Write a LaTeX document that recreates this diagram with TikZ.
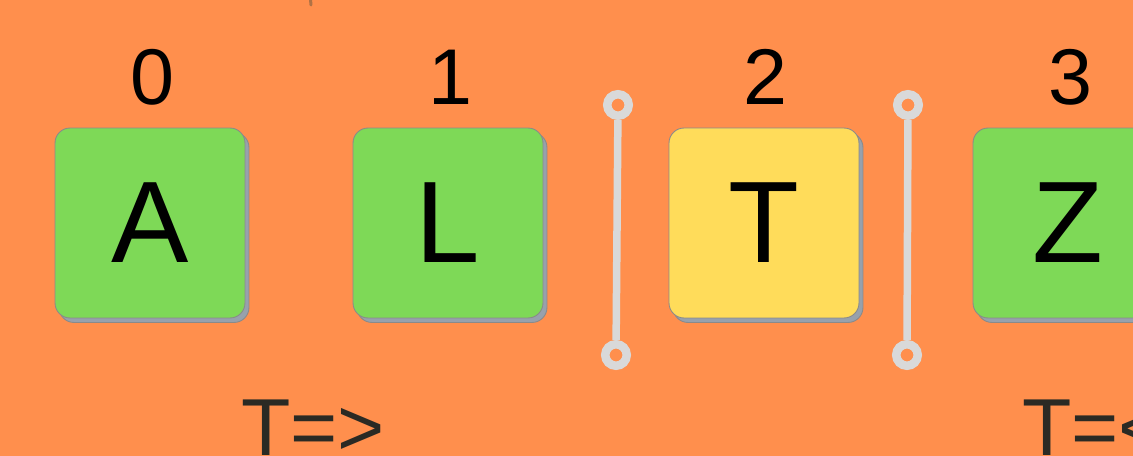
\documentclass[tikz,border=0pt]{standalone}
\usepackage{fontspec}
\setmainfont{Liberation Sans}
\usetikzlibrary{shadows}
\definecolor{bgorange}{HTML}{FF8F4D}
\definecolor{tilegreen}{HTML}{7ED957}
\definecolor{tileyellow}{HTML}{FFDC5A}
\definecolor{tileshadow}{HTML}{97A1AC}
\definecolor{tileedge}{HTML}{8A8A8A}
\definecolor{pingray}{HTML}{D9D9D9}
\definecolor{codedark}{HTML}{2A2A24}
\definecolor{markbrown}{HTML}{B07245}
\begin{document}
\begin{tikzpicture}[x=0.02cm, y=-0.02cm,
  tile/.style={draw=tileedge, line width=0.5pt, rectangle, rounded corners=0.3cm,
               minimum size=3.8cm, inner sep=0pt, font=\fontsize{66}{66}\selectfont,
               copy shadow={shadow xshift=0.08cm, shadow yshift=-0.09cm,
                            fill=tileshadow, draw=tileedge}},
  num/.style={font=\fontsize{45}{45}\selectfont, inner sep=0pt},
  pin/.style={circle, draw=pingray, line width=0.17cm, minimum size=0.43cm, inner sep=0pt},
  bar/.style={draw=pingray, line width=0.15cm},
  code/.style={font=\fontsize{46}{46}\selectfont, text=codedark, anchor=base west, inner sep=0pt}]

  \useasboundingbox (0,0) rectangle (1133,456);
  \clip (0,0) rectangle (1133,456);
  \fill[bgorange] (0,0) rectangle (1133,456);
  \draw[markbrown, line width=0.06cm, line cap=round] (310,-6) -- (311,5);

  \node[num] (n0) at (152,77)  {0};
  \node[num] (n1) at (450,77)  {1};
  \node[num] (n2) at (765,77)  {2};
  \node[num] (n3) at (1070,77) {3};

  \node[tile, fill=tilegreen]  (tA) at (150,223)  {A};
  \node[tile, fill=tilegreen]  (tL) at (448,223)  {L};
  \node[tile, fill=tileyellow] (tT) at (764,223)  {T};
  \node[tile, fill=tilegreen]  (tZ) at (1068,223) {Z};

  \node[pin] (p1t) at (618,105) {};
  \node[pin] (p1b) at (616,355) {};
  \node[pin] (p2t) at (908,105) {};
  \node[pin] (p2b) at (907,355) {};
  \draw[bar] (p1t) -- (p1b);
  \draw[bar] (p2t) -- (p2b);

  \node[code] (c1) at (241,455)  {T=>};
  \node[code] (c2) at (1022,455) {T=<};

\end{tikzpicture}
\end{document}
